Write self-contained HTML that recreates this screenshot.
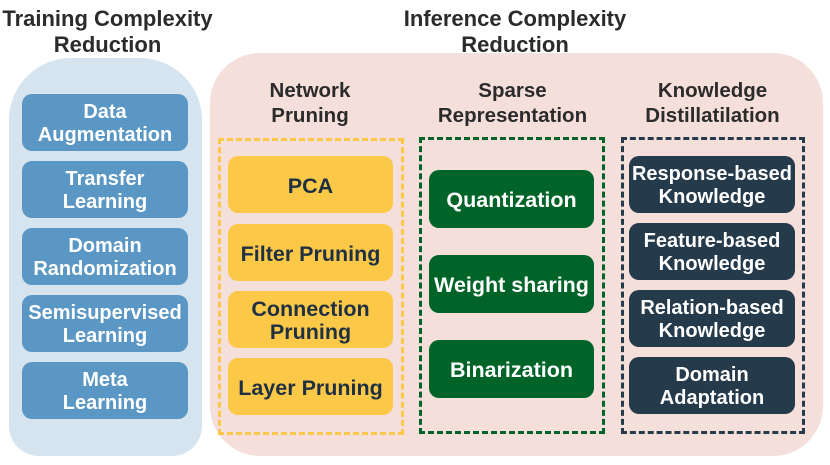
<!DOCTYPE html>
<html><head><style>
body{margin:0;width:830px;height:465px;background:#fff;position:relative;overflow:hidden;font-family:"Liberation Sans",sans-serif;font-weight:bold}
div{position:absolute;box-sizing:border-box}
.t{color:#2b2b2b;font-size:20.5px;line-height:25px;text-align:center;white-space:nowrap}
.b{display:flex;align-items:center;justify-content:center;text-align:center;border-radius:10px;font-size:20px;line-height:23px;white-space:nowrap;padding-top:3px}
.bl{background:#5a97c4;color:#fff;left:22px;width:166px;height:57px}
.y{background:#fcc847;color:#1f3042;left:228px;width:165px;height:57px;font-size:21.5px}
.g{background:#006428;color:#fff;left:429px;width:165px;height:58px;font-size:21.5px}
.d{background:#253a4b;color:#fff;left:629px;width:166px;height:57px}
</style></head><body>
<div class="t" style="left:-20px;width:255px;top:6px;font-size:22px;line-height:26px">Training Complexity<br>Reduction</div>
<div class="t" style="left:380px;width:270px;top:6px;font-size:22px;line-height:26px">Inference Complexity<br>Reduction</div>
<div style="left:9px;top:58px;width:193px;height:398px;background:#d5e4ef;border-radius:62px 62px 30px 30px"></div>
<div style="left:210px;top:53px;width:613px;height:403px;background:#f5dfdb;border-radius:50px"></div>
<div class="t" style="left:230px;width:160px;top:78px">Network<br>Pruning</div>
<div class="t" style="left:420px;width:185px;top:78px">Sparse<br>Representation</div>
<div class="t" style="left:620px;width:185px;top:78px">Knowledge<br>Distillatilation</div>
<div style="left:218px;top:138px;width:186px;height:297px;border:3px dashed #fcc847"></div>
<div style="left:419px;top:137px;width:186px;height:297px;border:3px dashed #006428"></div>
<div style="left:621px;top:137px;width:184px;height:297px;border:3px dashed #253a4b"></div>
<div class="b bl" style="top:94px">Data<br>Augmentation</div>
<div class="b bl" style="top:161px">Transfer<br>Learning</div>
<div class="b bl" style="top:228px">Domain<br>Randomization</div>
<div class="b bl" style="top:295px">Semisupervised<br>Learning</div>
<div class="b bl" style="top:362px">Meta<br>Learning</div>
<div class="b y" style="top:156px">PCA</div>
<div class="b y" style="top:224px">Filter Pruning</div>
<div class="b y" style="top:291px">Connection<br>Pruning</div>
<div class="b y" style="top:358px">Layer Pruning</div>
<div class="b g" style="top:170px">Quantization</div>
<div class="b g" style="top:255px">Weight sharing</div>
<div class="b g" style="top:340px">Binarization</div>
<div class="b d" style="top:156px">Response-based<br>Knowledge</div>
<div class="b d" style="top:223px">Feature-based<br>Knowledge</div>
<div class="b d" style="top:290px">Relation-based<br>Knowledge</div>
<div class="b d" style="top:357px">Domain<br>Adaptation</div>
</body></html>
